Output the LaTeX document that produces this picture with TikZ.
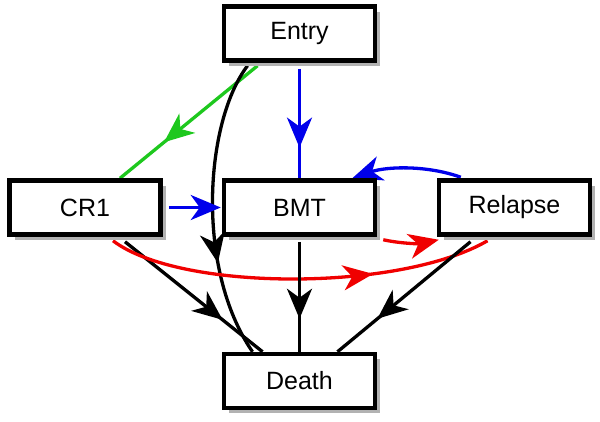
\documentclass[tikz,border=0pt]{standalone}
\usepackage{fontspec}
\setmainfont{Liberation Sans}
\usetikzlibrary{arrows.meta,decorations.markings,calc,shadows,backgrounds}
\definecolor{cgreen}{RGB}{30,200,30}
\definecolor{cblue}{RGB}{0,0,235}
\definecolor{cred}{RGB}{240,0,0}
\begin{document}
\begin{tikzpicture}[x=1pt,y=-1pt,
  box/.style={draw,line width=4.5pt,fill=white,minimum width=151pt,minimum height=54pt,inner sep=0pt,
    font=\fontsize{25}{30}\selectfont,
    drop shadow={shadow xshift=5pt,shadow yshift=-5pt,fill=black!30,opacity=1}},
  conn/.style={line width=3.3pt},
  tip/.style={-{Stealth[length=30pt,width=25pt,inset=9pt]}},
  midarrow/.style={postaction={decorate},decoration={markings,
    mark=at position #1 with {\arrow{Stealth[length=30pt,width=25pt,inset=9pt]}}}}
  ]
\useasboundingbox (0,0) rectangle (600,421);
\node[box] (entry) at (299.5,33.5) {Entry};
\node[box] (cr1) at (85,207.5) {CR1};
\node[box] (bmt) at (299.5,207.5) {BMT};
\node[box] (relapse) at (514.5,207.5) {Relapse};
\node[box] (death) at (299.5,381) {Death};
\begin{pgfonlayer}{background}
\draw[conn,cgreen,midarrow=0.68] ($(entry.south)+(-42,3)$) -- ($(cr1.north)+(35,0)$);
\draw[conn,cblue,midarrow=0.72] ($(entry.south)+(0,6)$) -- (bmt.north);
\draw[conn,midarrow=0.68] ($(entry.south)+(-52,3)$) .. controls +(-42.5,56) and +(-57.5,-83.5) .. ($(death.north)+(-47,0)$);
\draw[conn,cblue,tip] ($(cr1.east)+(6,0)$) -- ($(bmt.west)+(-1,0)$);
\draw[conn,midarrow=0.71] ($(cr1.south)+(40,5)$) -- ($(death.north)+(-37,0)$);
\draw[conn,cred,midarrow=0.69] ($(cr1.south)+(28,4)$) .. controls +(67,51) and +(-87.5,51) .. ($(relapse.south)+(-27,4)$);
\draw[conn,cred,tip] ($(bmt.south east)+(6,3)$) .. controls +(18,4) and +(-18,4) .. ($(relapse.south west)+(2,3)$);
\draw[conn,cblue,tip] ($(relapse.north west)+(24,-1)$) .. controls +(-33,-12) and +(35,-12) .. ($(bmt.north east)+(-25,0)$);
\draw[conn,midarrow=0.7] ($(bmt.south)+(0,5)$) -- (death.north);
\draw[conn,midarrow=0.7] ($(relapse.south)+(-44,5)$) -- ($(death.north)+(38,0)$);
\end{pgfonlayer}
\end{tikzpicture}
\end{document}
